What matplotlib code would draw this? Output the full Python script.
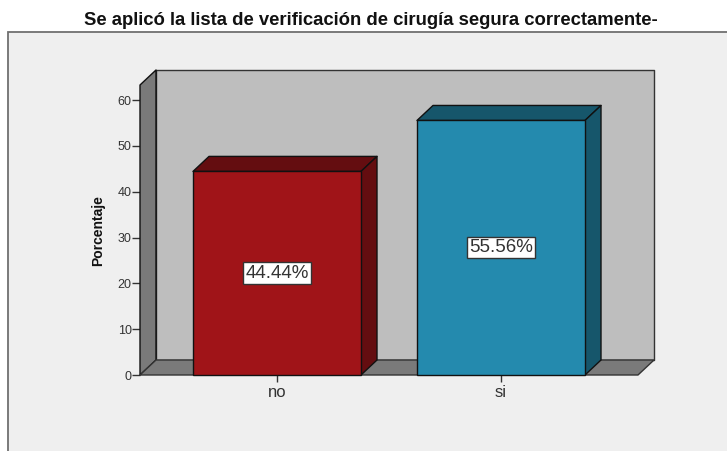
import matplotlib
matplotlib.use("Agg")
import matplotlib.pyplot as plt
from matplotlib.patches import Polygon, Rectangle

categorias = ["no", "si"]
porcentajes = [44.44, 55.56]
etiquetas = ["44.44%", "55.56%"]
y_ticks = [0, 10, 20, 30, 40, 50, 60]
titulo = "Se aplicó la lista de verificación de cirugía segura correctamente-"

W, H = 727, 451
ancho = 0.75
# profundidad del efecto 3D, en unidades de datos
dx = 16 / 224
dy = 15 / 4.58
x0, x1 = -0.6116, 1.6116
ymax = 63.3

colores = ["#A01418", "#248AAE"]
oscuros = ["#640D10", "#16566B"]
borde = "#111111"


def caja(ax, pts, color, z, lw=1.0, ec=borde):
    ax.add_patch(Polygon(pts, closed=True, facecolor=color, edgecolor=ec,
                         linewidth=lw, zorder=z, clip_on=False, joinstyle="round"))


fig = plt.figure(figsize=(W / 100, H / 100), dpi=100, facecolor="white")
plt.rcParams["font.family"] = ["Liberation Sans", "DejaVu Sans"]

# fondo del grafico
fondo = Rectangle((7.5 / W, -0.05), 1.0, 1.05 - 31.5 / H, transform=fig.transFigure,
                  facecolor="#EFEFEF", edgecolor="#707070", linewidth=1.3, zorder=-1)
fig.add_artist(fondo)

ax = fig.add_axes([140 / W, (H - 375) / H, (638 - 140) / W, 290 / H])
ax.set_xlim(x0, x1)
ax.set_ylim(0, ymax)
ax.patch.set_visible(False)
for s in ax.spines.values():
    s.set_visible(False)

# pared del fondo, lateral y suelo
caja(ax, [(x0 + dx, dy), (x1 + dx, dy), (x1 + dx, ymax + dy), (x0 + dx, ymax + dy)], "#BEBEBE", 1, ec="#333333")
caja(ax, [(x0, 0), (x0 + dx, dy), (x0 + dx, ymax + dy), (x0, ymax)], "#7A7A7A", 2)
caja(ax, [(x0, 0), (x1, 0), (x1 + dx, dy), (x0 + dx, dy)], "#7A7A7A", 2, ec="#333333")

for i, v in enumerate(porcentajes):
    l, r = i - ancho / 2, i + ancho / 2
    caja(ax, [(l, v), (r, v), (r + dx, v + dy), (l + dx, v + dy)], oscuros[i], 3)
    caja(ax, [(r, 0), (r + dx, dy), (r + dx, v + dy), (r, v)], oscuros[i], 3)
    ax.bar(i, v, width=ancho, color=colores[i], edgecolor=borde, linewidth=1.0, zorder=4, clip_on=False)
    ax.text(i, v / 2, etiquetas[i], ha="center", va="center", fontsize=13.5, color="#333333", zorder=5,
            bbox=dict(boxstyle="square,pad=0.12", facecolor="white", edgecolor="#333333", linewidth=1))

ax.set_xticks(range(len(categorias)), categorias)
ax.set_yticks(y_ticks)
ax.tick_params(axis="x", length=5, width=1.0, color="#333333", labelsize=12, labelcolor="#333333", pad=2)
ax.tick_params(axis="y", length=5.5, width=1.0, color="#333333", labelsize=9, labelcolor="#333333", pad=0.5)

fig.text(98 / W, 1 - 230.5 / H, "Porcentaje", rotation=90, ha="center", va="center",
         fontsize=10, fontweight="bold", color="#111111")
fig.text(371 / W, 1 - 20.5 / H, titulo, ha="center", va="center", fontsize=13.3,
         fontweight="bold", color="#111111")

fig.savefig("out.png", dpi=100, facecolor="white")
